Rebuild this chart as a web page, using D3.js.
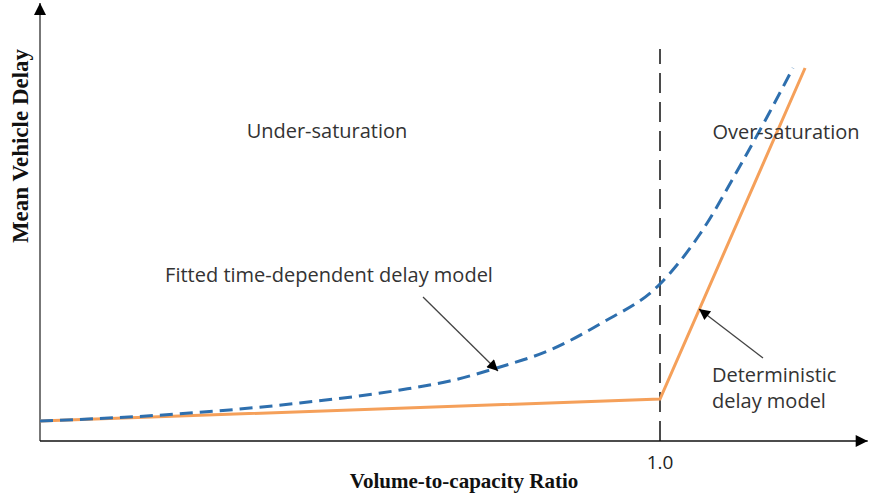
<!DOCTYPE html>
<html>
<head>
<meta charset="utf-8">
<script src="https://cdn.jsdelivr.net/npm/d3@7"></script>
<style>
  html, body { margin: 0; padding: 0; background: #fff; }
  svg { display: block; }
</style>
</head>
<body>
<svg id="chart" width="870" height="499"></svg>
<script>
// ---- data (x: volume-to-capacity ratio, y: relative mean delay) ----
const fittedX = [0, 0.177, 0.419, 0.581, 0.661, 0.742, 0.823, 0.903, 1.0, 1.0645, 1.129, 1.177, 1.2145];
const fittedY = [5, 6.3, 9.5, 12.75, 15, 18.5, 22.75, 29.25, 39.25, 51.75, 68.75, 82.25, 93.25];
const detX = [0, 1.0, 1.234];
const detY = [5, 10.5, 93.25];
const xTicks = [1.0];
const xTickLabels = ["1.0"];
const regionLabels = ["Under-saturation", "Over-saturation"];
const xTitle = "Volume-to-capacity Ratio";
const yTitle = "Mean Vehicle Delay";
const fittedLabel = "Fitted time-dependent delay model";
const detLabel = ["Deterministic", "delay model"];

const svg = d3.select("#chart");
const x = d3.scaleLinear().domain([0, 1]).range([40, 660]);
const y = d3.scaleLinear().domain([0, 100]).range([441, 41]);
const xMax = 1.335, yMax = 109.5;

const defs = svg.append("defs");
defs.append("marker").attr("id", "axhead").attr("viewBox", "0 0 10 10")
  .attr("refX", 10).attr("refY", 5).attr("markerWidth", 18).attr("markerHeight", 12)
  .attr("markerUnits", "userSpaceOnUse").attr("orient", "auto")
  .append("path").attr("d", "M0,0 L10,5 L0,10 Z").attr("fill", "#000");
defs.append("marker").attr("id", "anhead").attr("viewBox", "0 0 10 10")
  .attr("refX", 10).attr("refY", 5).attr("markerWidth", 14).attr("markerHeight", 11)
  .attr("markerUnits", "userSpaceOnUse").attr("orient", "auto")
  .append("path").attr("d", "M0,0 L10,5 L0,10 Z").attr("fill", "#000");

// axes
svg.append("line").attr("x1", x(0)).attr("y1", y(0)).attr("x2", x(0)).attr("y2", y(yMax))
  .attr("stroke", "#555").attr("stroke-width", 1.6).attr("marker-end", "url(#axhead)");
svg.append("line").attr("x1", x(0)).attr("y1", y(0)).attr("x2", x(xMax)).attr("y2", y(0))
  .attr("stroke", "#111").attr("stroke-width", 1.6).attr("marker-end", "url(#axhead)");

// vertical dashed line at v/c = 1
svg.append("line").attr("x1", x(1)).attr("x2", x(1)).attr("y1", y(0)).attr("y2", y(98))
  .attr("stroke", "#111").attr("stroke-width", 1.5).attr("stroke-dasharray", "20,9");

const font = "Open Sans, sans-serif";
const fs = 20;

// tick labels
svg.selectAll(".xt").data(xTicks).enter().append("text")
  .attr("x", d => x(d)).attr("y", 469).attr("text-anchor", "middle")
  .attr("font-family", font).attr("font-size", 19).attr("fill", "#222")
  .text((d, i) => xTickLabels[i]);

const line = d3.line().x(d => x(d[0])).y(d => y(d[1]));

// deterministic model
svg.append("path").datum(detX.map((v, i) => [v, detY[i]]))
  .attr("d", line).attr("fill", "none").attr("stroke", "#f5a05a").attr("stroke-width", 3);

// fitted time-dependent model
svg.append("path").datum(fittedX.map((v, i) => [v, fittedY[i]]))
  .attr("d", line.curve(d3.curveMonotoneX)).attr("fill", "none")
  .attr("stroke", "#2e6fae").attr("stroke-width", 3).attr("stroke-dasharray", "13,7");

// region labels
svg.append("text").attr("x", 327).attr("y", 138).attr("text-anchor", "middle")
  .attr("font-family", font).attr("font-size", fs).attr("fill", "#333").text(regionLabels[0]);
svg.append("text").attr("x", 786).attr("y", 139).attr("text-anchor", "middle")
  .attr("font-family", font).attr("font-size", fs).attr("fill", "#333").text(regionLabels[1]);

// annotations
svg.append("text").attr("x", 329).attr("y", 282).attr("text-anchor", "middle")
  .attr("font-family", font).attr("font-size", fs).attr("fill", "#333").text(fittedLabel);
svg.append("line").attr("x1", 423).attr("y1", 297).attr("x2", 498).attr("y2", 371)
  .attr("stroke", "#444").attr("stroke-width", 1.3).attr("marker-end", "url(#anhead)");

detLabel.forEach((t, i) => {
  svg.append("text").attr("x", 712).attr("y", 382 + i * 26)
    .attr("font-family", font).attr("font-size", fs).attr("fill", "#333").text(t);
});
svg.append("line").attr("x1", 763).attr("y1", 358).attr("x2", 699).attr("y2", 309)
  .attr("stroke", "#444").attr("stroke-width", 1.3).attr("marker-end", "url(#anhead)");

// axis titles
svg.append("text").attr("x", 464).attr("y", 488).attr("text-anchor", "middle")
  .attr("font-family", "Liberation Serif, Times New Roman, serif").attr("font-weight", "bold")
  .attr("font-size", 21).attr("fill", "#111").text(xTitle);
svg.append("text").attr("transform", "translate(28,146) rotate(-90)").attr("text-anchor", "middle")
  .attr("font-family", "Liberation Serif, Times New Roman, serif").attr("font-weight", "bold")
  .attr("font-size", 23).attr("fill", "#111").text(yTitle);
</script>
</body>
</html>
